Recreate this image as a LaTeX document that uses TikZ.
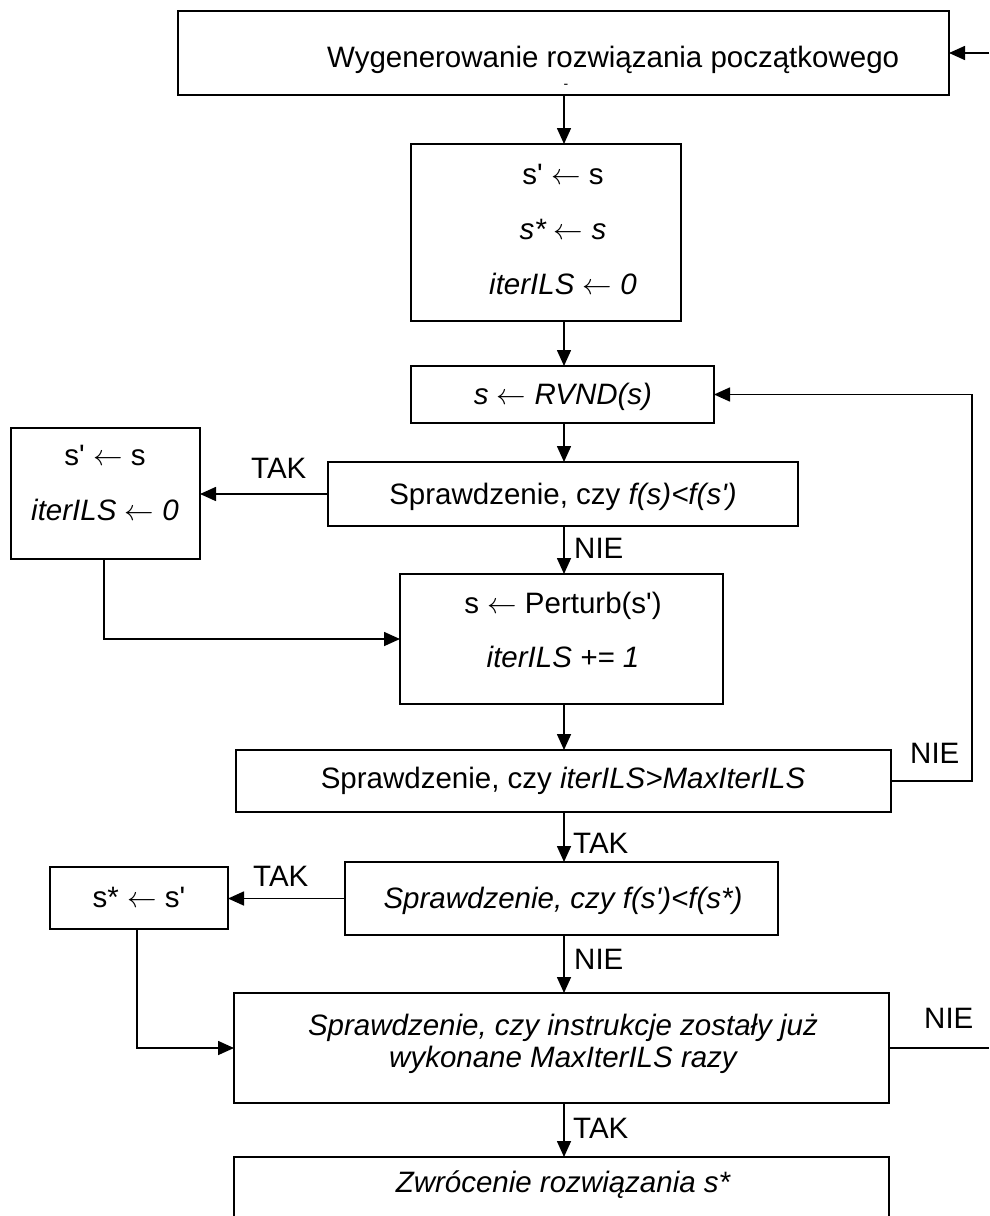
\documentclass[tikz,border=0pt]{standalone}
\usepackage{fix-cm}
\usepackage{fontspec}
\setmainfont{Liberation Sans}[Ligatures=TeXOff]
\usetikzlibrary{arrows.meta}
\newcommand{\la}{ $\leftarrow$ }
\begin{document}
\begin{tikzpicture}[x=1pt,y=-1pt,
  box/.style={draw, line width=2pt, inner sep=0pt, outer sep=0pt, rectangle},
  txt/.style={inner sep=0pt, anchor=base, font=\fontsize{29.5}{34}\selectfont},
  lbl/.style={inner sep=0pt, anchor=base west, font=\fontsize{29.5}{34}\selectfont},
  conn/.style={line width=1.6pt},
  arr/.style={line width=1.6pt, -{Triangle[length=16pt,width=14pt]}}]
\useasboundingbox (0,0) rectangle (989,1216);
\clip (0,0) rectangle (989,1216);
\coordinate (axis) at (564,0);
\coordinate (rl) at (972,0);
\coordinate (edge) at (989,0);
% boxes
\node[box, minimum width=771pt, minimum height=84pt] (b1) at (563.5,53) {};
\node[box, minimum width=270pt, minimum height=177pt] (b2) at (546,232.5) {};
\node[box, minimum width=303pt, minimum height=57pt] (b3) at (562.5,394.5) {};
\node[box, minimum width=470pt, minimum height=64pt] (b4) at (563,494) {};
\node[box, minimum width=189pt, minimum height=131pt] (bl1) at (105.5,493.5) {};
\node[box, minimum width=323pt, minimum height=130pt] (b5) at (561.5,639) {};
\node[box, minimum width=655pt, minimum height=62pt] (b6) at (563.5,781) {};
\node[box, minimum width=433pt, minimum height=73pt] (b7) at (561.5,898.5) {};
\node[box, minimum width=178pt, minimum height=62pt] (bl2) at (139,898) {};
\node[box, minimum width=655pt, minimum height=110pt] (b8) at (561.5,1048) {};
\node[box, minimum width=655pt, minimum height=73pt] (b9) at (561.5,1193.5) {};
% texts
\node[txt, anchor=base west] (t1) at (327,67) {Wygenerowanie rozwiązania początkowego};
\node[txt, font=\fontsize{14}{16}\selectfont] (t1d) at (566,88) {-};
\node[txt] (t2a) at (563,184) {s'\la s};
\node[txt] (t2b) at (563,239) {\itshape s*\la s};
\node[txt] (t2c) at (563,294) {\itshape iterILS\la 0};
\node[txt] (t3) at (563,404) {\itshape s\la RVND(s)};
\node[txt] (t4) at (563,504) {Sprawdzenie, czy \itshape f(s)<f(s')};
\node[txt] (tl1a) at (105,465) {s'\la s};
\node[txt] (tl1b) at (105,520) {\itshape iterILS\la 0};
\node[txt] (t5a) at (563,613) {s\la Perturb(s')};
\node[txt] (t5b) at (563,667) {\itshape iterILS += 1};
\node[txt] (t6) at (563,788) {Sprawdzenie, czy \itshape iterILS>MaxIterILS};
\node[txt] (t7) at (563,908) {\itshape Sprawdzenie, czy f(s')<f(s*)};
\node[txt] (tl2) at (139,907) {s*\la s'};
\node[txt] (t8a) at (563,1035) {\itshape Sprawdzenie, czy instrukcje zostały już};
\node[txt] (t8b) at (563,1067) {\itshape wykonane MaxIterILS razy};
\node[txt] (t9) at (563,1192) {\itshape Zwrócenie rozwiązania s*};
% labels
\node[lbl] (l1) at (251,478) {TAK};
\node[lbl] (l2) at (574,558) {NIE};
\node[lbl] (l3) at (910,763) {NIE};
\node[lbl] (l4) at (573,853) {TAK};
\node[lbl] (l5) at (253,886) {TAK};
\node[lbl] (l6) at (574,969) {NIE};
\node[lbl] (l7) at (924,1028) {NIE};
\node[lbl] (l8) at (573,1138) {TAK};
% connectors
\draw[arr] (b1.east -| edge) -- (b1.east);
\draw[arr] (b1.south -| axis) -- (b2.north -| axis);
\draw[arr] (b2.south -| axis) -- (b3.north -| axis);
\draw[arr] (b3.south -| axis) -- (b4.north -| axis);
\draw[arr] (b4.south -| axis) -- (b5.north -| axis);
\draw[arr] (b5.south -| axis) -- (b6.north -| axis);
\draw[arr] (b6.south -| axis) -- (b7.north -| axis);
\draw[arr] (b7.south -| axis) -- (b8.north -| axis);
\draw[arr] (b8.south -| axis) -- (b9.north -| axis);
\draw[arr] (b4.west) -- (b4.west -| bl1.east);
\draw[arr] (bl1.south -| 104,0) |- (b5.west);
\draw[arr] (b6.east) -| (rl |- b3.east) -- (b3.east);
\draw[arr] (b7.west) -- (b7.west -| bl2.east);
\draw[arr] (bl2.south -| 137,0) |- (b8.west);
\draw[conn] (b8.east) -- (b8.east -| edge);
\end{tikzpicture}
\end{document}
